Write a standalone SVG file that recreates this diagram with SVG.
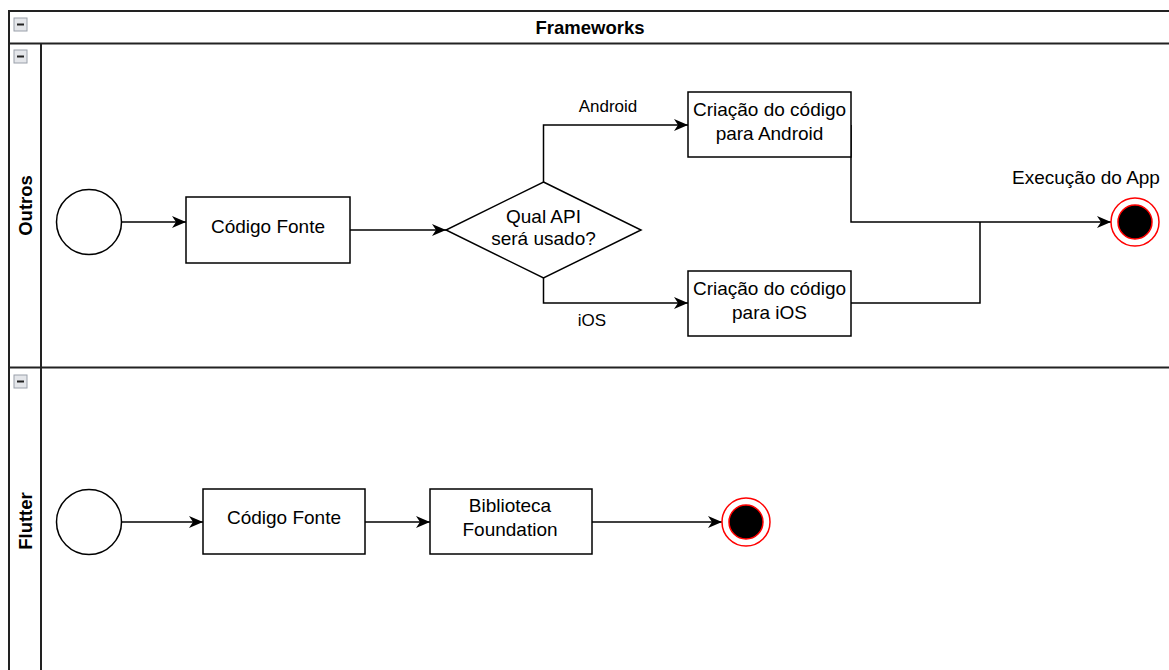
<svg xmlns="http://www.w3.org/2000/svg" width="1169" height="670" viewBox="0 0 1169 670">
<style>
.t{font-family:"Liberation Sans",Arial,sans-serif;font-size:19px;fill:#000;text-anchor:middle}
.lbl{font-family:"Liberation Sans",Arial,sans-serif;font-size:17px;fill:#000;text-anchor:middle}
.b{font-family:"Liberation Sans",Arial,sans-serif;font-size:18.5px;font-weight:bold;fill:#000;text-anchor:middle}
.box{fill:#fff;stroke:#000;stroke-width:1.5}
.lane{fill:none;stroke:#222;stroke-width:2}
.edge{fill:none;stroke:#000;stroke-width:1.5}
.ic{fill:#e4e6ea;stroke:#9aa0aa;stroke-width:1}
.endo{fill:#fff;stroke:#ff0000;stroke-width:1.5}
.endi{fill:#000;stroke:#ff0000;stroke-width:1.5}
</style>
<defs>
<marker id="arr" markerWidth="16" markerHeight="14" refX="14" refY="7" orient="auto" markerUnits="userSpaceOnUse">
<path d="M0,1 L14,7 L0,13 L4,7 Z" fill="#000"/>
</marker>
</defs>
<rect width="1169" height="670" fill="#fff"/>
<g id="pool">
<rect x="9" y="11" width="1170" height="670" class="lane" stroke="#555"/>
<line x1="9" y1="43.5" x2="1175" y2="43.5" class="lane"/>
<line x1="41" y1="43.5" x2="41" y2="680" class="lane"/>
<line x1="9" y1="367.5" x2="1175" y2="367.5" class="lane"/>
<text x="590" y="33.5" class="b">Frameworks</text>
<rect x="14" y="18" width="13" height="13" class="ic"/><line x1="17" y1="24.5" x2="24" y2="24.5" stroke="#222" stroke-width="2"/>
</g>
<g id="lane-outros">
<rect x="14" y="50" width="13" height="13" class="ic"/><line x1="17" y1="56.5" x2="24" y2="56.5" stroke="#222" stroke-width="2"/>
<text x="0" y="0" class="b" transform="translate(31.5,205.5) rotate(-90)">Outros</text>
</g>
<g id="lane-flutter">
<rect x="14" y="375" width="13" height="13" class="ic"/><line x1="17" y1="381.5" x2="24" y2="381.5" stroke="#222" stroke-width="2"/>
<text x="0" y="0" class="b" transform="translate(31.5,521) rotate(-90)">Flutter</text>
</g>
<g id="connectors">
<line x1="122" y1="222" x2="186" y2="222" class="edge" marker-end="url(#arr)"/>
<line x1="350" y1="230" x2="446" y2="230" class="edge" marker-end="url(#arr)"/>
<polyline points="543.5,182 543.5,125 688,125" class="edge" marker-end="url(#arr)"/>
<polyline points="543.5,278 543.5,303 688,303" class="edge" marker-end="url(#arr)"/>
<polyline points="851,125 851,222 1111,222" class="edge" marker-end="url(#arr)"/>
<polyline points="851,303 980,303 980,222" class="edge"/>
<text x="608" y="112" class="lbl">Android</text>
<text x="592" y="326" class="lbl">iOS</text>
<line x1="122" y1="522" x2="203" y2="522" class="edge" marker-end="url(#arr)"/>
<line x1="365" y1="522" x2="430" y2="522" class="edge" marker-end="url(#arr)"/>
<line x1="592" y1="522" x2="722" y2="522" class="edge" marker-end="url(#arr)"/>
</g>
<g id="start-outros"><circle cx="89" cy="222" r="32.5" class="box"/></g>
<g id="codigo-outros"><rect x="186" y="197" width="164" height="66" class="box"/><text x="268" y="232.5" class="t">Código Fonte</text></g>
<g id="decisao"><polygon points="543.5,182 641,230 543.5,278 446,230" class="box"/><text x="543.5" y="223" class="t">Qual API</text><text x="543.5" y="245" class="t">será usado?</text></g>
<g id="android"><rect x="688" y="92" width="163" height="65" class="box"/><text x="769.5" y="115.5" class="t">Criação do código</text><text x="769.5" y="139.5" class="t">para Android</text></g>
<g id="ios"><rect x="688" y="271" width="163" height="65" class="box"/><text x="769.5" y="294.5" class="t">Criação do código</text><text x="769.5" y="318.5" class="t">para iOS</text></g>
<g id="fim-outros"><circle cx="1135" cy="222" r="24" class="endo"/><circle cx="1135" cy="222" r="17" class="endi"/><text x="1086" y="184" class="t">Execução do App</text></g>
<g id="start-flutter"><circle cx="89" cy="522" r="32.5" class="box"/></g>
<g id="codigo-flutter"><rect x="203" y="489" width="162" height="65" class="box"/><text x="284" y="524" class="t">Código Fonte</text></g>
<g id="biblioteca"><rect x="430" y="489" width="162" height="65" class="box"/><text x="510" y="511.5" class="t">Biblioteca</text><text x="510" y="535.5" class="t">Foundation</text></g>
<g id="fim-flutter"><circle cx="746" cy="522" r="24" class="endo"/><circle cx="746" cy="522" r="17" class="endi"/></g>
</svg>
